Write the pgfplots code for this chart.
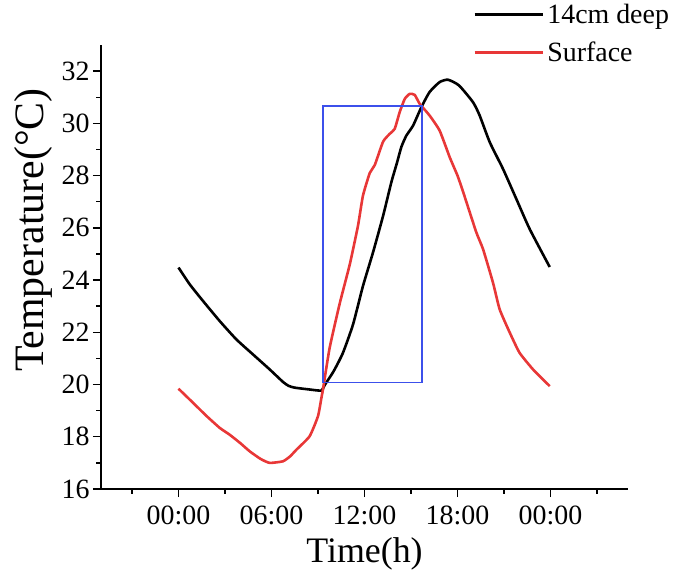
\documentclass[border=0pt]{standalone}
\usepackage{fontspec}
\setmainfont{Liberation Serif}
\usepackage{pgfplots}
\pgfplotsset{compat=1.18}
\definecolor{redline}{RGB}{232,55,55}
\definecolor{bluebox}{RGB}{60,80,235}
\begin{document}
\begin{tikzpicture}
\useasboundingbox (-101bp,-82bp) rectangle (577bp,489bp);
\begin{axis}[
  scale only axis,
  width=527bp, height=444bp,
  xmin=-5, xmax=29, ymin=16, ymax=33,
  axis x line*=bottom, axis y line*=left,
  x axis line style={-}, y axis line style={-},
  axis line style={line width=1.6bp},
  xtick={0,6,12,18,24},
  xticklabels={00:00,06:00,12:00,18:00,00:00},
  minor xtick={-3,3,9,15,21,27},
  ytick={16,18,...,32},
  minor ytick={17,19,...,31},
  tick align=outside,
  major tick length=8bp, minor tick length=4.5bp,
  every tick/.style={line width=1.4bp, black},
  /pgf/number format/assume math mode=true,
  ticklabel style={font=\fontsize{28}{32}\selectfont},
  xticklabel style={yshift=-5bp},
  xlabel={Time(h)},
  ylabel={Temperature(°C)},
  xlabel style={font=\fontsize{36}{40}\selectfont, at={(axis description cs:0.5,-0.146)}, anchor=center},
  ylabel style={font=\fontsize{42}{46}\selectfont, at={(axis description cs:-0.129,0.583)}, anchor=center},
  legend style={at={(0.706,1.093)}, anchor=north west, draw=none, fill=none,
    font=\fontsize{28}{32}\selectfont, row sep=17bp, inner sep=0pt,
    nodes={inner xsep=3.5bp, inner ysep=0pt}},
  legend cell align=left,
  legend image code/.code={\draw[#1] (0bp,0bp) -- (68bp,0bp);},
  clip=false,
]
\addplot[black, line width=2.6bp, smooth, tension=0.35] coordinates {
(0,24.48) (0.72,23.84) (1.58,23.2) (2.66,22.43) (3.73,21.73) (4.81,21.15)
(5.88,20.58) (6.74,20.1) (7.1,19.95) (7.5,19.88) (8.46,19.81) (9.22,19.77)
(9.43,19.98) (10,20.5) (10.6,21.2) (11.26,22.3) (11.9,23.77) (12.55,25.06)
(13.2,26.46) (13.73,27.74) (14.1,28.5) (14.38,29.1) (14.7,29.53) (15.13,29.91)
(15.67,30.62) (16.2,31.2) (16.85,31.58) (17.39,31.67) (18.1,31.45) (19.0,30.81)
(19.43,30.3) (20.08,29.28) (20.94,28.25) (21.8,27.1) (22.66,25.95) (23.95,24.5)
};
\addlegendentry{14cm deep}
\addplot[redline, line width=2.6bp, smooth, tension=0.3] coordinates {
(0,19.84) (0.94,19.3) (1.8,18.8) (2.66,18.34) (3.3,18.08) (4.0,17.75) (4.6,17.44)
(5.3,17.15) (5.88,17.0) (6.74,17.06) (7.2,17.25) (7.6,17.5) (8.46,18.02)
(9.0,18.79) (9.22,19.49) (9.32,19.81) (9.75,21.4) (10.4,23.1) (11.05,24.6)
(11.58,26.08) (11.9,27.23) (12.34,28.1) (12.66,28.4) (13.2,29.3) (13.63,29.6)
(13.95,29.79) (14.27,30.43) (14.6,30.94) (14.92,31.13) (15.24,31.09) (15.56,30.75)
(16.2,30.3) (16.85,29.72) (17.5,28.7) (18.0,28.0) (18.35,27.4) (19.2,25.85)
(19.65,25.18) (20.29,23.9) (20.72,22.88) (21.37,21.99) (22.0,21.22) (22.87,20.58)
(23.95,19.94)
};
\addlegendentry{Surface}
\addplot[bluebox, line width=1.3bp, forget plot] coordinates {
(9.32,20.07) (15.71,20.07) (15.71,30.66) (9.32,30.66) (9.32,20.07)
};
\end{axis}
\end{tikzpicture}
\end{document}
